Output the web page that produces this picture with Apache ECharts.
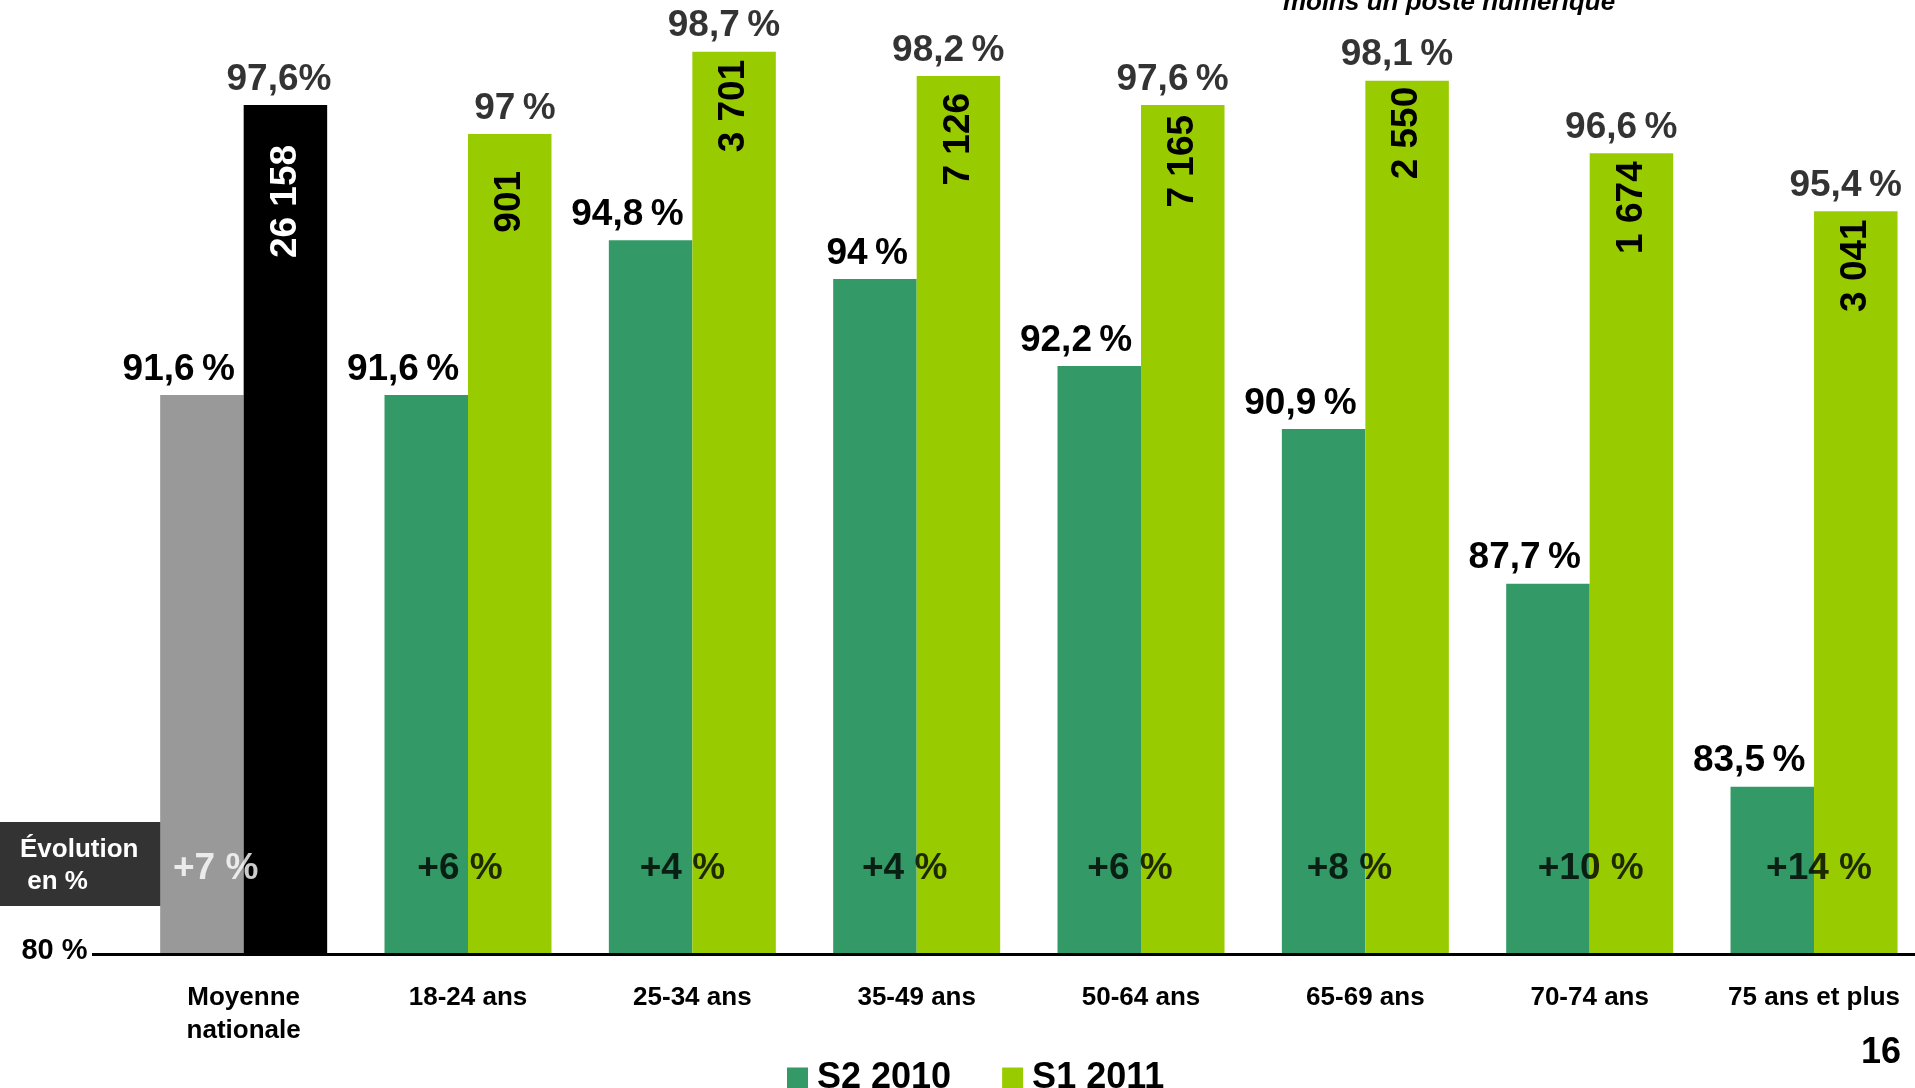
<!DOCTYPE html>
<html><head><meta charset="utf-8">
<script src="https://cdn.jsdelivr.net/npm/echarts@6/dist/echarts.min.js"></script>
<style>html,body{margin:0;padding:0;background:#fff;overflow:hidden}#c{width:1930px;height:1088px}</style>
</head><body><div id="c"></div>
<script>
// ---- data ----
const categories = ['Moyenne\nnationale','18-24 ans','25-34 ans','35-49 ans','50-64 ans','65-69 ans','70-74 ans','75 ans et plus'];
const seriesNames = ['S2 2010','S1 2011'];
const s2_2010 = [91.6, 91.6, 94.8, 94.0, 92.2, 90.9, 87.7, 83.5];
const s1_2011 = [97.6, 97.0, 98.7, 98.2, 97.6, 98.1, 96.6, 95.4];
const counts = [26158, 901, 3701, 7126, 7165, 2550, 1674, 3041];
const evolution = ['+7 %','+6 %','+4 %','+4 %','+6 %','+8 %','+10 %','+14 %'];
const yTickLabels = [80];
const titleLine = 'moins un poste numérique';
const pageNumber = '16';

// ---- styling ----
const FONT = '"Liberation Sans", Arial, sans-serif';
const C_S2 = '#339966', C_S1 = '#99CC00', C_AVG2 = '#999999', C_AVG1 = '#000000';
const fmtPct = (v, gap) => String(v).replace('.', ',') + (gap ? '\u2009%' : '%');
const fmtCount = n => String(n).replace(/\B(?=(\d{3})+(?!\d))/g, ' ');
const countDist = [40, 37, 8, 17, 10, 6, 8, 8];
const evolNudge = [-28, -8, -10, -12, -11, -16, 1, 5];
const EVOL_Y = 81.8;
const HALF_BAR = 41.75;
const Y_MAX = 99.77;   // top of plot area sits at the top edge of the picture

const chart = echarts.init(document.getElementById('c'), null, {renderer: 'canvas'});

const s2Data = s2_2010.map((v, i) => ({
  value: v,
  itemStyle: i === 0 ? {color: C_AVG2} : undefined
}));
const s1Data = s1_2011.map((v, i) => ({
  value: v,
  itemStyle: i === 0 ? {color: C_AVG1} : undefined,
  label: {
    distance: countDist[i],
    color: i === 0 ? '#ffffff' : '#000000',
    formatter: () => fmtCount(counts[i])
  }
}));
const s1PctData = s1_2011.map((v, i) => ({value: [i, v]}));
const evolData = evolution.map((t, i) => ({
  value: [i, EVOL_Y],
  label: {
    offset: [evolNudge[i], 0],
    color: i === 0 ? '#ffffff' : '#000000',
    formatter: () => t
  }
}));

const option = {
  animation: false,
  textStyle: {fontFamily: FONT},
  grid: {left: 131.5, top: 0, bottom: 132, width: 1794.7, containLabel: false, outerBoundsMode: 'none'},
  legend: {
    left: 782, top: 1055,
    itemWidth: 21, itemHeight: 21, itemGap: 51,
    data: seriesNames,
    textStyle: {fontFamily: FONT, fontWeight: 'bold', fontSize: 36, color: '#000', padding: [0, 0, 0, 4]},
    icon: 'rect'
  },
  xAxis: {
    type: 'category',
    data: categories,
    axisLine: {show: false},
    axisTick: {show: false},
    axisLabel: {
      interval: 0, margin: 25, color: '#000',
      fontFamily: FONT, fontWeight: 'bold', fontSize: 26, lineHeight: 33,
      verticalAlign: 'top'
    }
  },
  yAxis: {
    type: 'value', min: 80, max: Y_MAX, interval: 20,
    axisLine: {show: false}, axisTick: {show: false}, splitLine: {show: false},
    axisLabel: {
      margin: 44, color: '#000', fontFamily: FONT, fontWeight: 'bold', fontSize: 29,
      verticalAlign: 'bottom', lineHeight: 11,
      formatter: v => yTickLabels.includes(v) ? v + ' %' : ''
    }
  },
  series: [
    {
      name: seriesNames[0], type: 'bar', data: s2Data,
      barWidth: 83.5, barGap: '0%',
      itemStyle: {color: C_S2},
      label: {
        show: true, position: 'top', distance: 7,
        align: 'right', offset: [33, 0],
        color: '#000', fontFamily: FONT, fontWeight: 'bold', fontSize: 37,
        formatter: p => fmtPct(p.value, true)
      }
    },
    {
      name: seriesNames[1], type: 'bar', data: s1Data,
      barWidth: 83.5, barGap: '0%',
      itemStyle: {color: C_S1},
      label: {
        show: true, position: 'insideTop', rotate: 90,
        align: 'right', verticalAlign: 'middle',
        fontFamily: FONT, fontWeight: 'bold', fontSize: 37
      }
    },
    {
      // percentage labels above the S1 2011 bars
      name: 'pct S1', type: 'scatter', data: s1PctData,
      symbolSize: 0, silent: true,
      label: {
        show: true, position: 'top', distance: 7,
        align: 'right', offset: [HALF_BAR + 46, 0],
        color: '#000', fontFamily: FONT, fontWeight: 'bold', fontSize: 37,
        formatter: p => fmtPct(p.value[1], p.dataIndex !== 0)
      },
      z: 5
    },
    {
      name: 'evol', type: 'scatter', data: evolData,
      symbolSize: 0, silent: true,
      label: {
        show: true, position: 'inside',
        fontFamily: FONT, fontWeight: 'bold', fontSize: 37
      },
      z: 5
    }
  ],
  graphic: [
    {type: 'rect', left: 0, top: 822, shape: {width: 162, height: 84}, style: {fill: '#333333'}, z: 1},
    {type: 'text', left: 20, top: 834, style: {text: 'Évolution\n en %', fill: '#fff', font: 'bold 26px ' + FONT, lineHeight: 32}, z: 2},
    {type: 'line', shape: {x1: 92, y1: 954.5, x2: 1915, y2: 954.5}, style: {stroke: '#000', lineWidth: 3}, z: 10},
    {type: 'text', x: 1449, y: 3, style: {text: titleLine, fill: '#000', font: 'italic bold 26px ' + FONT, textAlign: 'center', textVerticalAlign: 'middle'}, z: 10},
    {type: 'text', x: 1901, y: 1053, style: {text: pageNumber, fill: '#000', font: 'bold 36px ' + FONT, textAlign: 'right', textVerticalAlign: 'middle'}, z: 10}
  ]
};
chart.setOption(option);
</script>
</body></html>
